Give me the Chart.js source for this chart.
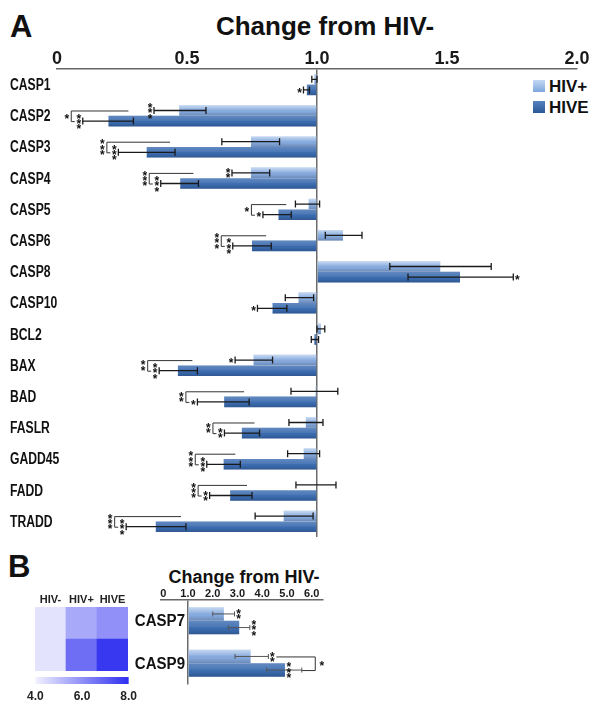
<!DOCTYPE html>
<html>
<head>
<meta charset="utf-8">
<script src="https://cdn.jsdelivr.net/npm/chart.js@4.4.1/dist/chart.umd.min.js"></script>
<style>
    body { margin: 0; background: #fff; width: 604px; height: 708px; position: relative; overflow: hidden;
           font-family: 'Liberation Sans', Arial, sans-serif; color: #111; }
    .abs { position: absolute; line-height: 1; font-weight: bold; white-space: nowrap; }
    canvas { position: absolute; display: block; }
    .sw { position: absolute; width: 12px; height: 12px; }
</style>
</head>
<body>
<div class="abs" style="left:10px; top:11px; font-size:31px;">A</div>
<div class="abs" style="left:325px; top:13px; font-size:26px; transform:translateX(-50%);">Change from HIV-</div>

<div class="sw" style="left:533px; top:80px; background:linear-gradient(#c3d8f3,#7ea6dc);"></div>
<div class="abs" style="left:549px; top:78px; font-size:17px;">HIV+</div>
<div class="sw" style="left:533px; top:101px; background:linear-gradient(#5583c2,#2b5894);"></div>
<div class="abs" style="left:549px; top:99px; font-size:17px;">HIVE</div>

<div class="abs" style="left:8px; top:551px; font-size:31px;">B</div>
<div class="abs" style="left:244px; top:568px; font-size:18px; transform:translateX(-50%);">Change from HIV-</div>

<canvas id="chartA" width="604" height="545" style="left:0; top:0;"></canvas>
<canvas id="chartB" width="215" height="115" style="left:120px; top:576px;"></canvas>
<canvas id="heat" width="103" height="83" style="left:30px; top:590px;"></canvas>
<canvas id="cbar" width="120" height="30" style="left:22px; top:675px;"></canvas>

<script>
// --- panel A data (fold change vs HIV-) ---
const genes = ['CASP1', 'CASP2', 'CASP3', 'CASP4', 'CASP5', 'CASP6', 'CASP8', 'CASP10',
               'BCL2', 'BAX', 'BAD', 'FASLR', 'GADD45', 'FADD', 'TRADD'];
const hivPos   = [0.99, 0.47, 0.746, 0.746, 0.968, 1.10, 1.474, 0.929, 1.015, 0.756, 0.995, 0.957, 0.949, 0.997, 0.872];
const hivPosLo = [0.98, 0.373, 0.634, 0.673, 0.917, 1.032, 1.28, 0.878, 1.0, 0.685, 0.90, 0.892, 0.887, 0.919, 0.762];
const hivPosHi = [1.0, 0.573, 0.856, 0.818, 1.01, 1.173, 1.67, 0.987, 1.03, 0.829, 1.08, 1.023, 1.01, 1.073, 0.985];
const hive     = [0.961, 0.198, 0.345, 0.474, 0.852, 0.75, 1.55, 0.829, 0.99, 0.465, 0.643, 0.711, 0.641, 0.666, 0.38];
const hiveLo   = [0.948, 0.099, 0.236, 0.399, 0.792, 0.676, 1.35, 0.771, 0.978, 0.393, 0.54, 0.644, 0.576, 0.587, 0.266];
const hiveHi   = [0.971, 0.294, 0.454, 0.544, 0.901, 0.824, 1.755, 0.884, 1.006, 0.54, 0.739, 0.779, 0.705, 0.75, 0.496];
const sigPos  = ['', '***', '', '**', '', '', '', '', '', '*', '', '', '', '', ''];
const sigHive = ['*', '***', '***', '***', '*', '***', '*', '*', '', '***', '*', '**', '***', '**', '***'];
const sigPair = ['', '*', '***', '***', '*', '***', '', '', '', '**', '**', '**', '***', '***', '***'];
const ticksA = [0, 0.5, 1, 1.5, 2];

// --- panel B data ---
const genesB = ['CASP7', 'CASP9'];
const bPos    = [2.45, 3.53];
const bPosLo  = [2.0, 2.9];
const bPosHi  = [2.88, 4.25];
const bHive   = [3.07, 4.92];
const bHiveLo = [2.63, 4.18];
const bHiveHi = [3.5, 5.6];
const sigPosB  = ['**', '**'];
const sigHiveB = ['***', '***'];
const sigPairB = ['', '*'];
const ticksB = [0, 1, 2, 3, 4, 5, 6];

// --- heatmap (expression level) ---
const heatCols  = ['HIV-', 'HIV+', 'HIVE'];
const heatCasp7 = [4.3, 5.5, 6.0];
const heatCasp9 = [4.3, 6.7, 7.8];
const heatTicks = [4, 6, 8];

const colors = {
    pos: '#86abdf',
    hive: '#3b6cb0',
    ink: '#111',
    err: '#1a1a1a',
    axis: '#666'
};
const FONT = "'Liberation Sans', Arial, sans-serif";

function heatColor(v) {
    const t = Math.max(0, Math.min(1, (v - 4) / 4));
    const lo = [242, 242, 255], hi = [46, 46, 240];
    const c = lo.map((a, i) => Math.round(a + (hi[i] - a) * t));
    return `rgb(${c[0]},${c[1]},${c[2]})`;
}

const fmt = v => v === 0 ? '0' : v.toFixed(1);

function drawStars(ctx, txt, cx, cy, fs) {
    const n = txt.length;
    ctx.font = `bold ${fs}px ${FONT}`;
    ctx.textAlign = 'center';
    ctx.textBaseline = 'alphabetic';
    for (let i = 0; i < n; i++) {
        const y = cy + (i - (n - 1) / 2) * 5.3;
        ctx.fillText('*', cx, y + fs * 0.56);
    }
}

// category names (condensed like the original), placed on the library's y scale
const catLabels = {
    id: 'catLabels',
    afterDraw(chart, args, o) {
        const ctx = chart.ctx, ys = chart.scales.y;
        ctx.save();
        ctx.font = o.font;
        ctx.fillStyle = colors.ink;
        ctx.textBaseline = 'middle';
        ctx.textAlign = o.align;
        chart.data.labels.forEach((lab, i) => {
            ctx.save();
            ctx.translate(o.x, ys.getPixelForValue(i) + 1);
            ctx.scale(o.sx, 1);
            ctx.fillText(lab, 0, 0);
            ctx.restore();
        });
        ctx.restore();
    }
};

// gloss, error bars, significance marks
const marks = {
    id: 'marks',
    afterDatasetsDraw(chart, args, o) {
        const ctx = chart.ctx;
        const px = v => chart.scales.x.getPixelForValue(v);
        const m0 = chart.getDatasetMeta(0), m1 = chart.getDatasetMeta(1);
        ctx.save();

        [m0, m1].forEach((meta, k) => meta.data.forEach(bar => {
            const l = Math.min(bar.x, bar.base), r = Math.max(bar.x, bar.base);
            const t = bar.y - bar.height / 2, b = bar.y + bar.height / 2;
            const g = ctx.createLinearGradient(0, t, 0, b);
            g.addColorStop(0, `rgba(255,255,255,${o.gloss[k]})`);
            g.addColorStop(0.45, 'rgba(255,255,255,0.08)');
            g.addColorStop(0.6, 'rgba(0,0,0,0)');
            g.addColorStop(1, 'rgba(0,0,30,0.2)');
            ctx.fillStyle = g;
            ctx.fillRect(l, t, r - l, b - t);
        }));

        ctx.strokeStyle = o.errColor;
        ctx.lineWidth = o.errWidth;
        [m0, m1].forEach((meta, k) => meta.data.forEach((bar, i) => {
            const a = px(o.lo[k][i]), b = px(o.hi[k][i]), y = bar.y;
            ctx.beginPath();
            ctx.moveTo(a, y); ctx.lineTo(b, y);
            ctx.moveTo(a, y - o.cap); ctx.lineTo(a, y + o.cap);
            ctx.moveTo(b, y - o.cap); ctx.lineTo(b, y + o.cap);
            ctx.stroke();
        }));

        ctx.fillStyle = colors.ink;
        ctx.strokeStyle = '#333';
        ctx.lineWidth = 1;
        chart.data.labels.forEach((lab, i) => {
            const yP = m0.data[i].y, yH = m1.data[i].y;
            [0, 1].forEach(k => {
                const s = o.sig[k][i];
                if (!s) return;
                const y = k === 0 ? yP : yH;
                let sx;
                if (o.pairSide === 'right' && k === 1 && o.pair[i]) sx = px(o.vals[k][i]) + 4;
                else if (o.vals[k][i] < 1) sx = px(o.lo[k][i]) - 4;
                else sx = px(o.hi[k][i]) + 4;
                drawStars(ctx, s, sx, y, o.fs);
            });
            const p = o.pair[i];
            if (!p) return;
            ctx.beginPath();
            if (o.pairSide === 'left') {
                const vx = px(o.lo[1][i]) - 12;
                ctx.moveTo(px(o.hi[1][i]) - 5, yP + 0.5);
                ctx.lineTo(vx + 0.5, yP + 0.5);
                ctx.lineTo(vx + 0.5, yH + 0.5);
                ctx.lineTo(vx + 4, yH + 0.5);
                ctx.stroke();
                drawStars(ctx, p, vx - 4, (yP + yH) / 2, o.fs);
            } else {
                const vx = px(o.hi[1][i]) + 13;
                ctx.moveTo(px(o.hi[0][i]) + 8, yP + 0.5);
                ctx.lineTo(vx + 0.5, yP + 0.5);
                ctx.lineTo(vx + 0.5, yH + 0.5);
                ctx.lineTo(px(o.hi[1][i]), yH + 0.5);
                ctx.stroke();
                drawStars(ctx, p, vx + 7, (yP + yH) / 2, o.fs);
            }
        });
        ctx.restore();
    }
};

Chart.defaults.color = colors.ink;
Chart.defaults.font.family = FONT;

// --- PANEL A ---
new Chart(document.getElementById('chartA'), {
    type: 'bar',
    data: {
        labels: genes,
        datasets: [
            { label: 'HIV+', data: hivPos, backgroundColor: colors.pos, base: 1 },
            { label: 'HIVE', data: hive, backgroundColor: colors.hive, base: 1 }
        ]
    },
    options: {
        indexAxis: 'y', responsive: false, animation: false,
        layout: { padding: { left: 57, right: 27, top: 0, bottom: 8 } },
        datasets: { bar: { categoryPercentage: 0.68, barPercentage: 1 } },
        plugins: {
            legend: { display: false },
            tooltip: { enabled: false },
            catLabels: { x: 10, align: 'left', sx: 0.76, font: `bold 16px ${FONT}` },
            marks: {
                lo: [hivPosLo, hiveLo], hi: [hivPosHi, hiveHi], vals: [hivPos, hive],
                sig: [sigPos, sigHive], pair: sigPair, pairSide: 'left',
                gloss: [0.55, 0.2], errColor: colors.err, errWidth: 1.3, cap: 3.5, fs: 12
            }
        },
        scales: {
            x: {
                position: 'top', min: 0, max: 2, z: 1,
                afterBuildTicks: s => { s.ticks = ticksA.map(v => ({ value: v })); },
                ticks: { padding: -1, maxRotation: 0, color: '#1a1a1a', font: { size: 18, weight: 'bold' }, callback: fmt },
                grid: { drawTicks: false, lineWidth: 1.5,
                        color: c => (c.tick && c.tick.value === 1) ? '#6b6b6b' : 'rgba(0,0,0,0)' },
                border: { display: true, color: colors.axis, width: 1.5 },
                afterFit: s => { s.height = 69; }
            },
            y: { display: false }
        }
    },
    plugins: [marks, catLabels]
});

// --- PANEL B ---
new Chart(document.getElementById('chartB'), {
    type: 'bar',
    data: {
        labels: genesB,
        datasets: [
            { label: 'HIV+', data: bPos, backgroundColor: colors.pos, base: 1 },
            { label: 'HIVE', data: bHive, backgroundColor: colors.hive, base: 1 }
        ]
    },
    options: {
        indexAxis: 'y', responsive: false, animation: false,
        layout: { padding: { left: 40.8, right: 12.2, top: 0, bottom: 6.5 } },
        datasets: { bar: { categoryPercentage: 0.64, barPercentage: 1 } },
        plugins: {
            legend: { display: false },
            tooltip: { enabled: false },
            catLabels: { x: 65, align: 'right', sx: 0.94, font: `bold 16px ${FONT}` },
            marks: {
                lo: [bPosLo, bHiveLo], hi: [bPosHi, bHiveHi], vals: [bPos, bHive],
                sig: [sigPosB, sigHiveB], pair: sigPairB, pairSide: 'right',
                gloss: [0.55, 0.2], errColor: '#555', errWidth: 1, cap: 2.5, fs: 12
            }
        },
        scales: {
            x: {
                position: 'top', min: -0.1, max: 6.45, z: 1,
                afterBuildTicks: s => { s.ticks = ticksB.map(v => ({ value: v })); },
                ticks: { padding: -1, maxRotation: 0, color: '#1a1a1a', font: { size: 11, weight: 'bold' }, callback: fmt },
                grid: { drawTicks: false, lineWidth: 1.5,
                        color: c => (c.tick && c.tick.value === 1) ? '#6b6b6b' : 'rgba(0,0,0,0)' },
                border: { display: true, color: colors.axis, width: 1.5 },
                afterFit: s => { s.height = 23.5; }
            },
            y: { display: false }
        }
    },
    plugins: [marks, catLabels]
});

// --- HEATMAP (rows stacked: CASP9 bottom, CASP7 top) ---
new Chart(document.getElementById('heat'), {
    type: 'bar',
    data: {
        labels: heatCols,
        datasets: [
            { label: 'CASP9', data: heatCasp9.map(() => 1), backgroundColor: heatCasp9.map(heatColor) },
            { label: 'CASP7', data: heatCasp7.map(() => 1), backgroundColor: heatCasp7.map(heatColor) }
        ]
    },
    options: {
        responsive: false, animation: false,
        layout: { padding: { left: 5, right: 5, top: 0, bottom: 2 } },
        datasets: { bar: { categoryPercentage: 1, barPercentage: 1, borderWidth: 0 } },
        plugins: { legend: { display: false }, tooltip: { enabled: false } },
        scales: {
            x: {
                position: 'top', stacked: true,
                ticks: { padding: 0, autoSkip: false, maxRotation: 0, minRotation: 0,
                         color: '#222', font: { size: 11, weight: 'bold' } },
                grid: { display: false, drawTicks: false },
                border: { display: false },
                afterFit: s => { s.height = 17; }
            },
            y: { display: false, stacked: true, min: 0, max: 2 }
        }
    }
});

// --- COLOUR BAR ---
new Chart(document.getElementById('cbar'), {
    type: 'bar',
    data: {
        labels: ['scale'],
        datasets: [{
            data: [[heatTicks[0], heatTicks[heatTicks.length - 1]]],
            backgroundColor: c => {
                const a = c.chart.chartArea;
                if (!a) return heatColor(6);
                const g = c.chart.ctx.createLinearGradient(a.left, 0, a.right, 0);
                g.addColorStop(0, heatColor(heatTicks[0]));
                g.addColorStop(1, heatColor(heatTicks[heatTicks.length - 1]));
                return g;
            }
        }]
    },
    options: {
        indexAxis: 'y', responsive: false, animation: false,
        layout: { padding: { left: 13, right: 13, top: 2, bottom: 0 } },
        datasets: { bar: { categoryPercentage: 1, barPercentage: 1 } },
        plugins: { legend: { display: false }, tooltip: { enabled: false } },
        scales: {
            x: {
                min: 4, max: 8,
                afterBuildTicks: s => { s.ticks = heatTicks.map(v => ({ value: v })); },
                ticks: { padding: 5, maxRotation: 0, color: '#222', font: { size: 12, weight: 'bold' }, callback: v => v.toFixed(1) },
                grid: { display: false, drawTicks: false },
                border: { display: false },
                afterFit: s => { s.height = 21; }
            },
            y: { display: false }
        }
    }
});
</script>
</body>
</html>
